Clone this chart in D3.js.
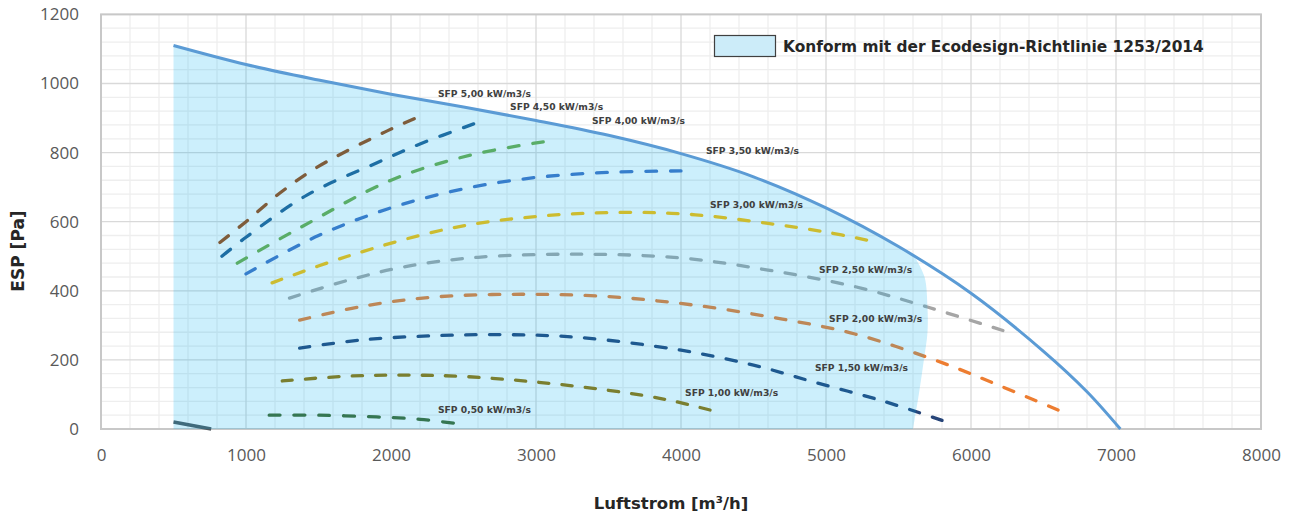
<!DOCTYPE html>
<html>
<head>
<meta charset="utf-8">
<script src="https://cdn.jsdelivr.net/npm/d3@7"></script>
<style>
  body { margin: 0; background: #fff; }
  svg { display: block; }
  .tick text { font-family: "Open Sans", sans-serif; fill: #595959; }
  .lbl { font-family: "DejaVu Sans", Verdana, sans-serif; font-weight: bold; fill: #404040; }
</style>
</head>
<body>
<div id="vis"></div>
<script>
var W = 1293, H = 522;

// axis ticks
var xTicks = [0, 1000, 2000, 3000, 4000, 5000, 6000, 7000, 8000];
var yTicks = [0, 200, 400, 600, 800, 1000, 1200];

// upper limit of the fan (Luftstrom m3/h, ESP Pa)
var envelope = [[500,1110],[1000,1055],[1500,1010],[2000,969],[2500,932],[3000,893],
  [3500,850],[4000,797],[4500,730],[5000,640],[5500,528],[6000,393],[6500,225],
  [6800,108],[7030,0]];
// right border of the conformity area
var conformEdge = [[5620,492],[5680,440],[5700,350],[5700,280],[5675,200],[5640,100],[5600,0]];
// lower limit line
var minLine = [[500,20],[760,0]];

// SFP curves
var sfp500 = [[820,540],[1000,600],[1234,683],[1500,760],[1960,860],[2160,898]];
var sfp450 = [[834,500],[1000,555],[1420,677],[1900,770],[2200,825],[2570,883]];
var sfp400 = [[940,480],[1370,582],[2000,720],[2550,793],[3050,831]];
var sfp350 = [[1000,449],[1500,560],[2000,640],[2500,695],[3000,728],[3500,743],[4000,747]];
var sfp300 = [[1180,423],[1700,500],[2400,580],[3000,615],[3600,627],[4100,620],[4600,595],[5000,570],[5280,547]];
var sfp250 = [[1300,379],[1700,430],[2100,470],[2600,497],[3300,506],[4000,495],[4600,460],[5200,412],[5700,353],[6220,285]];
var sfp200 = [[1370,315],[1800,355],[2300,382],[2900,390],[3500,383],[4100,358],[4700,318],[5200,275],[5800,192],[6200,125],[6600,55]];
var sfp150 = [[1370,234],[1800,258],[2300,270],[2800,273],[3300,265],[4000,228],[4500,185],[4900,138],[5400,80],[5800,25]];
var sfp100 = [[1250,139],[1700,153],[2100,156],[2500,152],[3000,136],[3500,112],[3900,85],[4200,55]];
var sfp050 = [[1160,40],[1500,40],[1900,35],[2200,28],[2430,17]];

var sfpSeries = [sfp500, sfp450, sfp400, sfp350, sfp300, sfp250, sfp200, sfp150, sfp100, sfp050];
var sfpNames = ["SFP 5,00 kW/m3/s","SFP 4,50 kW/m3/s","SFP 4,00 kW/m3/s","SFP 3,50 kW/m3/s",
  "SFP 3,00 kW/m3/s","SFP 2,50 kW/m3/s","SFP 2,00 kW/m3/s","SFP 1,50 kW/m3/s",
  "SFP 1,00 kW/m3/s","SFP 0,50 kW/m3/s"];
// where each label sits (data units, left edge / middle)
var sfpLabelAt = [[2324,970],[2821,932],[3386,891],[4172,805],[4200,648],[4952,460],
  [5021,318],[4924,177],[4028,104],[2324,55]];
var sfpColors = ["#9e480e","#255e91","#70ad47","#4472c4","#ffc000","#a5a5a5",
  "#ed7d31","#264478","#997300","#43682b"];

var legendText = "Konform mit der Ecodesign-Richtlinie 1253/2014";

var x = d3.scaleLinear().domain([0, 8000]).range([101, 1261]),
    y = d3.scaleLinear().domain([0, 1200]).range([429, 14.4]);

var svg = d3.select("#vis").append("svg")
    .attr("width", W)
    .attr("height", H);

// grid
var g = svg.append("g");
g.selectAll("line.mx")
    .data(d3.range(0, 8001, 200).filter(function(d) { return d % 1000; }))
  .enter().append("line")
    .attr("x1", x).attr("x2", x)
    .attr("y1", y(0)).attr("y2", y(1200))
    .attr("stroke", "#eeeeee").attr("stroke-width", 1.3);
g.selectAll("line.my")
    .data(d3.range(0, 1201, 40).filter(function(d) { return d % 200; }))
  .enter().append("line")
    .attr("y1", y).attr("y2", y)
    .attr("x1", x(0)).attr("x2", x(8000))
    .attr("stroke", "#eeeeee").attr("stroke-width", 1.3);
g.selectAll("line.Mx")
    .data(xTicks)
  .enter().append("line")
    .attr("x1", x).attr("x2", x)
    .attr("y1", y(0)).attr("y2", y(1200))
    .attr("stroke", "#d9d9d9").attr("stroke-width", 1.3);
g.selectAll("line.My")
    .data(yTicks)
  .enter().append("line")
    .attr("y1", y).attr("y2", y)
    .attr("x1", x(0)).attr("x2", x(8000))
    .attr("stroke", "#d9d9d9").attr("stroke-width", 1.3);
g.append("rect")
    .attr("x", x(0)).attr("y", y(1200))
    .attr("width", x(8000) - x(0)).attr("height", y(0) - y(1200))
    .attr("fill", "none").attr("stroke", "#c8c8c8").attr("stroke-width", 2);

// axes (labels only)
svg.append("g")
    .attr("transform", "translate(0," + (y(0) + 17) + ")")
    .call(d3.axisBottom(x).tickValues(xTicks).tickSize(0).tickFormat(d3.format("d")))
    .call(function(s) { s.select(".domain").remove(); })
    .selectAll("text").style("font-size", "17px");
svg.append("g")
    .attr("transform", "translate(" + (x(0) - 19) + ",0)")
    .call(d3.axisLeft(y).tickValues(yTicks).tickSize(0).tickFormat(d3.format("d")))
    .call(function(s) { s.select(".domain").remove(); })
    .selectAll("text").style("font-size", "17px");

var line = d3.line()
    .x(function(d) { return x(d[0]); })
    .y(function(d) { return y(d[1]); })
    .curve(d3.curveMonotoneX);
var smooth = d3.line()
    .x(function(d) { return x(d[0]); })
    .y(function(d) { return y(d[1]); })
    .curve(d3.curveCatmullRom);

// SFP dashed curves, dash pattern stretched so each curve ends on a dash
svg.selectAll("path.sfp")
    .data(sfpSeries)
  .enter().append("path")
    .attr("d", smooth)
    .attr("fill", "none")
    .attr("stroke", function(d, i) { return sfpColors[i]; })
    .attr("stroke-width", 3.3)
    .attr("stroke-linecap", "round")
    .attr("stroke-dasharray", function() {
      var L = this.getTotalLength(),
          n = Math.max(1, Math.round((L - 10.5) / 24)),
          k = L / (n * 24 + 10.5);
      return (10.5 * k) + "," + (13.5 * k);
    });

svg.append("path")
    .attr("d", line(minLine))
    .attr("fill", "none")
    .attr("stroke", "#505a60")
    .attr("stroke-width", 3.5);

// conformity area (semi transparent, over the curves)
var topPts = envelope.filter(function(d) { return d[0] < conformEdge[0][0]; }).concat([conformEdge[0]]);
svg.append("path")
    .attr("d", "M" + x(500) + "," + y(0) + smooth(topPts).replace(/^M/, "L") +
               smooth(conformEdge).replace(/^M/, "L") + "Z")
    .attr("fill", "#00b0f0")
    .attr("fill-opacity", 0.2);

svg.append("path")
    .attr("d", smooth(envelope))
    .attr("fill", "none")
    .attr("stroke", "#5b9bd5")
    .attr("stroke-width", 3);

// SFP labels
svg.selectAll("text.sfp")
    .data(sfpNames)
  .enter().append("text")
    .attr("class", "lbl")
    .attr("x", function(d, i) { return x(sfpLabelAt[i][0]); })
    .attr("y", function(d, i) { return y(sfpLabelAt[i][1]); })
    .attr("dy", "0.35em")
    .style("font-size", "9.2px")
    .text(function(d) { return d; });

// legend
svg.append("rect")
    .attr("x", 714.5).attr("y", 35.5)
    .attr("width", 61).attr("height", 21)
    .attr("fill", "#ccecf9")
    .attr("stroke", "#404040").attr("stroke-width", 1.2);
svg.append("text")
    .attr("class", "lbl")
    .attr("x", 783).attr("y", 47)
    .attr("dy", "0.35em")
    .style("font-size", "15.4px")
    .style("fill", "#262626")
    .text(legendText);

// axis titles
svg.append("text")
    .attr("class", "lbl")
    .attr("x", 671).attr("y", 503)
    .attr("dy", "0.35em")
    .attr("text-anchor", "middle")
    .style("font-size", "16.5px")
    .style("fill", "#262626")
    .text("Luftstrom [m³/h]");
svg.append("text")
    .attr("class", "lbl")
    .attr("transform", "translate(18,251) rotate(-90)")
    .attr("dy", "0.35em")
    .attr("text-anchor", "middle")
    .style("font-size", "17px")
    .style("fill", "#262626")
    .text("ESP [Pa]");
</script>
</body>
</html>
